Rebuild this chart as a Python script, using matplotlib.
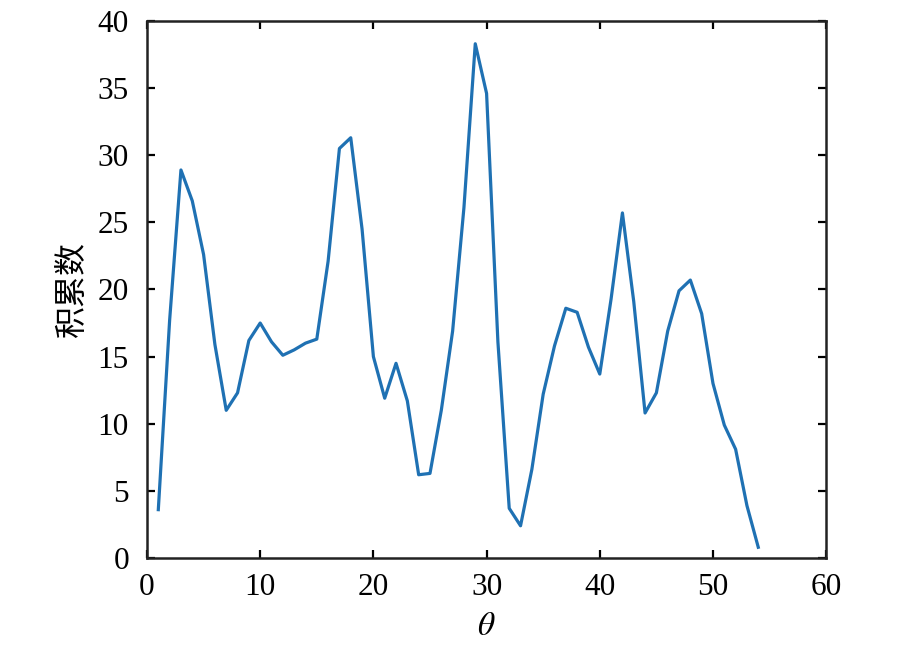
import numpy as np
import matplotlib
matplotlib.use('Agg')
import matplotlib.pyplot as plt

# data
theta = np.arange(1, 55)
counts = [3.6, 17.7, 28.9, 26.6, 22.6, 15.9, 11.0, 12.3, 16.2, 17.5,
          16.1, 15.1, 15.5, 16.0, 16.3, 22.1, 30.5, 31.3, 24.5, 15.0,
          11.9, 14.5, 11.7, 6.2, 6.3, 11.0, 16.9, 26.1, 38.3, 34.6,
          16.1, 3.7, 2.4, 6.6, 12.2, 15.8, 18.6, 18.3, 15.7, 13.7,
          19.3, 25.7, 19.1, 10.8, 12.3, 16.9, 19.9, 20.7, 18.2, 13.0,
          9.9, 8.1, 3.9, 0.8]
x_ticks = [0, 10, 20, 30, 40, 50, 60]
y_ticks = [0, 5, 10, 15, 20, 25, 30, 35, 40]

plt.rcParams['font.family'] = ['Liberation Serif', 'Noto Sans CJK SC']
plt.rcParams['mathtext.fontset'] = 'stix'

fig = plt.figure(figsize=(8.99, 6.54), dpi=100)
ax = fig.add_axes([0.1635, 0.1468, 0.7555, 0.8212])
ax.plot(theta, counts, color='#1f71b3', linewidth=2.3)

ax.set_xlim(0, 60)
ax.set_ylim(0, 40)
ax.set_xticks(x_ticks)
ax.set_yticks(y_ticks)
ax.tick_params(direction='in', length=6, width=1.6, labelsize=22.5,
               top=True, right=True)
ax.tick_params(axis='y', pad=13)
ax.tick_params(axis='x', pad=11)
for s in ax.spines.values():
    s.set_linewidth(1.8)
    s.set_color('#222222')

ax.set_xlabel(r'$\theta$', fontsize=24, labelpad=7)
ax.set_ylabel('积累数', fontsize=23, family=['Noto Sans CJK SC'], labelpad=7)

fig.savefig('out.png', dpi=100)
